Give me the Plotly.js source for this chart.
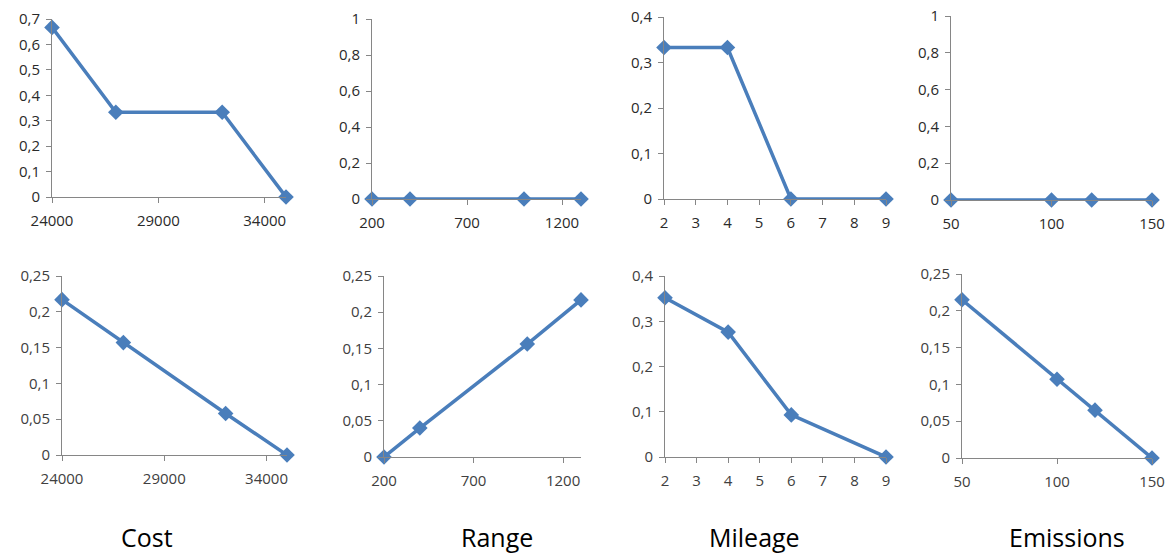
<!DOCTYPE html>
<html>
<head>
<meta charset="utf-8">
<script src="https://cdn.plot.ly/plotly-3.0.1.min.js"></script>
<style>html,body{margin:0;padding:0;background:#fff;}#chart{width:1172px;height:554px;}</style>
</head>
<body>
<div id="chart"></div>
<script>
var costX = [24000, 27000, 32000, 35000];
var costTop = [0.667, 0.333, 0.333, 0];
var costBottom = [0.217, 0.157, 0.058, 0];
var rangeX = [200, 400, 1000, 1300];
var rangeTop = [0, 0, 0, 0];
var rangeBottom = [0, 0.04, 0.156, 0.217];
var mileageX = [2, 4, 6, 9];
var mileageTop = [0.333, 0.333, 0, 0];
var mileageBottom = [0.352, 0.276, 0.093, 0];
var emissionsX = [50, 100, 120, 150];
var emissionsTop = [0, 0, 0, 0];
var emissionsBottom = [0.215, 0.107, 0.065, 0];
var titles = ['Cost', 'Range', 'Mileage', 'Emissions'];

var W = 1172, H = 554;
var blue = '#4a7ebb';
function dx(a, b) { return [a / W, b / W]; }
function dy(top, bot) { return [1 - bot / H, 1 - top / H]; }

var panels = [
  {x: costX, y: costTop, xr: [24000, 35000], t0: 24000, dt: 5000, yr: [0, 0.7], ydt: 0.1, xd: dx(52, 286), yd: dy(19, 197)},
  {x: rangeX, y: rangeTop, xr: [200, 1300], t0: 200, dt: 500, yr: [0, 1], ydt: 0.2, xd: dx(372, 581), yd: dy(19, 199)},
  {x: mileageX, y: mileageTop, xr: [2, 9], t0: 2, dt: 1, yr: [0, 0.4], ydt: 0.1, xd: dx(664, 886), yd: dy(17, 199)},
  {x: emissionsX, y: emissionsTop, xr: [50, 150], t0: 50, dt: 50, yr: [0, 1], ydt: 0.2, xd: dx(951, 1152), yd: dy(16, 200)},
  {x: costX, y: costBottom, xr: [24000, 35000], t0: 24000, dt: 5000, yr: [0, 0.25], ydt: 0.05, xd: dx(62, 287), yd: dy(276, 455)},
  {x: rangeX, y: rangeBottom, xr: [200, 1300], t0: 200, dt: 500, yr: [0, 0.25], ydt: 0.05, xd: dx(384, 581), yd: dy(276, 457)},
  {x: mileageX, y: mileageBottom, xr: [2, 9], t0: 2, dt: 1, yr: [0, 0.4], ydt: 0.1, xd: dx(665, 886), yd: dy(276, 457)},
  {x: emissionsX, y: emissionsBottom, xr: [50, 150], t0: 50, dt: 50, yr: [0, 0.25], ydt: 0.05, xd: dx(962, 1152), yd: dy(274, 458)}
];

var data = [];
var layout = {
  width: W, height: H,
  margin: {l: 0, r: 0, t: 0, b: 0},
  paper_bgcolor: '#fff', plot_bgcolor: '#fff',
  showlegend: false,
  separators: ',',
  font: {family: 'Open Sans, sans-serif', size: 15, color: '#3a3a3a'},
  annotations: []
};

panels.forEach(function (p, i) {
  var n = i + 1;
  var xa = 'x' + (n === 1 ? '' : n), ya = 'y' + (n === 1 ? '' : n);
  data.push({
    type: 'scatter', mode: 'lines+markers', x: p.x, y: p.y,
    xaxis: xa, yaxis: ya, cliponaxis: false,
    line: {color: blue, width: 3.5},
    marker: {symbol: 'diamond', size: 12, color: blue}
  });
  var axCommon = {showgrid: false, zeroline: false, showline: true, linecolor: '#868686', linewidth: 1,
    ticks: 'outside', ticklen: 5, tickcolor: '#868686', tickwidth: 1, fixedrange: true,
    exponentformat: 'none', separatethousands: false,
    tickfont: {family: 'Open Sans, sans-serif', size: 15, color: i < 4 ? '#2a2a2a' : '#404040'}};
  layout['xaxis' + (n === 1 ? '' : n)] = Object.assign({}, axCommon, {
    domain: p.xd, range: p.xr, tickmode: 'linear', tick0: p.t0, dtick: p.dt,
    anchor: ya, ticklabelstandoff: 5
  });
  layout['yaxis' + (n === 1 ? '' : n)] = Object.assign({}, axCommon, {
    domain: p.yd, range: p.yr, tickmode: 'linear', tick0: 0, dtick: p.ydt,
    anchor: xa, ticklabelstandoff: 3
  });
});

var titleX = [147, 497, 754, 1067];
titles.forEach(function (t, i) {
  layout.annotations.push({
    text: t, xref: 'paper', yref: 'paper', x: titleX[i] / W, y: 1 - 537 / H,
    xanchor: 'center', yanchor: 'middle', showarrow: false,
    font: {family: 'Open Sans, sans-serif', size: 25, color: '#000'}
  });
});

Plotly.newPlot('chart', data, layout, {displayModeBar: false, staticPlot: true});
</script>
</body>
</html>
